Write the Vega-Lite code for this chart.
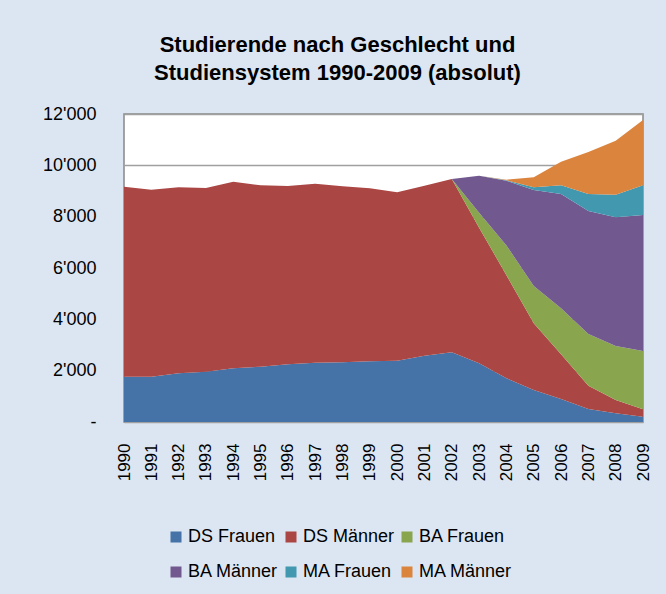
{
  "$schema": "https://vega.github.io/schema/vega-lite/v6.json",
  "width": 519,
  "height": 308,
  "autosize": {"type": "none"},
  "padding": {"left": 124, "top": 114, "right": 23, "bottom": 172},
  "background": "#dce6f2",
  "title": {
    "text": ["Studierende nach Geschlecht und", "Studiensystem 1990-2009 (absolut)"],
    "font": "Liberation Sans",
    "fontSize": 22,
    "fontWeight": "bold",
    "color": "#000000",
    "lineHeight": 28,
    "anchor": "middle",
    "frame": "group",
    "dx": -46,
    "offset": 20
  },
  "data": {
    "values": [
      {"year": 1990, "series": "DS Frauen", "value": 1765}, {"year": 1990, "series": "DS Männer", "value": 7403}, {"year": 1990, "series": "BA Frauen", "value": 0}, {"year": 1990, "series": "BA Männer", "value": 0}, {"year": 1990, "series": "MA Frauen", "value": 0}, {"year": 1990, "series": "MA Männer", "value": 0},
      {"year": 1991, "series": "DS Frauen", "value": 1765}, {"year": 1991, "series": "DS Männer", "value": 7286}, {"year": 1991, "series": "BA Frauen", "value": 0}, {"year": 1991, "series": "BA Männer", "value": 0}, {"year": 1991, "series": "MA Frauen", "value": 0}, {"year": 1991, "series": "MA Männer", "value": 0},
      {"year": 1992, "series": "DS Frauen", "value": 1897}, {"year": 1992, "series": "DS Männer", "value": 7246}, {"year": 1992, "series": "BA Frauen", "value": 0}, {"year": 1992, "series": "BA Männer", "value": 0}, {"year": 1992, "series": "MA Frauen", "value": 0}, {"year": 1992, "series": "MA Männer", "value": 0},
      {"year": 1993, "series": "DS Frauen", "value": 1961}, {"year": 1993, "series": "DS Männer", "value": 7156}, {"year": 1993, "series": "BA Frauen", "value": 0}, {"year": 1993, "series": "BA Männer", "value": 0}, {"year": 1993, "series": "MA Frauen", "value": 0}, {"year": 1993, "series": "MA Männer", "value": 0},
      {"year": 1994, "series": "DS Frauen", "value": 2091}, {"year": 1994, "series": "DS Männer", "value": 7272}, {"year": 1994, "series": "BA Frauen", "value": 0}, {"year": 1994, "series": "BA Männer", "value": 0}, {"year": 1994, "series": "MA Frauen", "value": 0}, {"year": 1994, "series": "MA Männer", "value": 0},
      {"year": 1995, "series": "DS Frauen", "value": 2156}, {"year": 1995, "series": "DS Männer", "value": 7065}, {"year": 1995, "series": "BA Frauen", "value": 0}, {"year": 1995, "series": "BA Männer", "value": 0}, {"year": 1995, "series": "MA Frauen", "value": 0}, {"year": 1995, "series": "MA Männer", "value": 0},
      {"year": 1996, "series": "DS Frauen", "value": 2247}, {"year": 1996, "series": "DS Männer", "value": 6948}, {"year": 1996, "series": "BA Frauen", "value": 0}, {"year": 1996, "series": "BA Männer", "value": 0}, {"year": 1996, "series": "MA Frauen", "value": 0}, {"year": 1996, "series": "MA Männer", "value": 0},
      {"year": 1997, "series": "DS Frauen", "value": 2312}, {"year": 1997, "series": "DS Männer", "value": 6973}, {"year": 1997, "series": "BA Frauen", "value": 0}, {"year": 1997, "series": "BA Männer", "value": 0}, {"year": 1997, "series": "MA Frauen", "value": 0}, {"year": 1997, "series": "MA Männer", "value": 0},
      {"year": 1998, "series": "DS Frauen", "value": 2325}, {"year": 1998, "series": "DS Männer", "value": 6857}, {"year": 1998, "series": "BA Frauen", "value": 0}, {"year": 1998, "series": "BA Männer", "value": 0}, {"year": 1998, "series": "MA Frauen", "value": 0}, {"year": 1998, "series": "MA Männer", "value": 0},
      {"year": 1999, "series": "DS Frauen", "value": 2364}, {"year": 1999, "series": "DS Männer", "value": 6740}, {"year": 1999, "series": "BA Frauen", "value": 0}, {"year": 1999, "series": "BA Männer", "value": 0}, {"year": 1999, "series": "MA Frauen", "value": 0}, {"year": 1999, "series": "MA Männer", "value": 0},
      {"year": 2000, "series": "DS Frauen", "value": 2390}, {"year": 2000, "series": "DS Männer", "value": 6558}, {"year": 2000, "series": "BA Frauen", "value": 0}, {"year": 2000, "series": "BA Männer", "value": 0}, {"year": 2000, "series": "MA Frauen", "value": 0}, {"year": 2000, "series": "MA Männer", "value": 0},
      {"year": 2001, "series": "DS Frauen", "value": 2584}, {"year": 2001, "series": "DS Männer", "value": 6623}, {"year": 2001, "series": "BA Frauen", "value": 0}, {"year": 2001, "series": "BA Männer", "value": 0}, {"year": 2001, "series": "MA Frauen", "value": 0}, {"year": 2001, "series": "MA Männer", "value": 0},
      {"year": 2002, "series": "DS Frauen", "value": 2714}, {"year": 2002, "series": "DS Männer", "value": 6753}, {"year": 2002, "series": "BA Frauen", "value": 0}, {"year": 2002, "series": "BA Männer", "value": 0}, {"year": 2002, "series": "MA Frauen", "value": 0}, {"year": 2002, "series": "MA Männer", "value": 0},
      {"year": 2003, "series": "DS Frauen", "value": 2286}, {"year": 2003, "series": "DS Männer", "value": 5284}, {"year": 2003, "series": "BA Frauen", "value": 585}, {"year": 2003, "series": "BA Männer", "value": 1435}, {"year": 2003, "series": "MA Frauen", "value": 0}, {"year": 2003, "series": "MA Männer", "value": 0},
      {"year": 2004, "series": "DS Frauen", "value": 1701}, {"year": 2004, "series": "DS Männer", "value": 4019}, {"year": 2004, "series": "BA Frauen", "value": 1160}, {"year": 2004, "series": "BA Männer", "value": 2520}, {"year": 2004, "series": "MA Frauen", "value": 20}, {"year": 2004, "series": "MA Männer", "value": 20},
      {"year": 2005, "series": "DS Frauen", "value": 1247}, {"year": 2005, "series": "DS Männer", "value": 2597}, {"year": 2005, "series": "BA Frauen", "value": 1455}, {"year": 2005, "series": "BA Männer", "value": 3740}, {"year": 2005, "series": "MA Frauen", "value": 104}, {"year": 2005, "series": "MA Männer", "value": 397},
      {"year": 2006, "series": "DS Frauen", "value": 896}, {"year": 2006, "series": "DS Männer", "value": 1740}, {"year": 2006, "series": "BA Frauen", "value": 1792}, {"year": 2006, "series": "BA Männer", "value": 4455}, {"year": 2006, "series": "MA Frauen", "value": 338}, {"year": 2006, "series": "MA Männer", "value": 921},
      {"year": 2007, "series": "DS Frauen", "value": 506}, {"year": 2007, "series": "DS Männer", "value": 910}, {"year": 2007, "series": "BA Frauen", "value": 2012}, {"year": 2007, "series": "BA Männer", "value": 4793}, {"year": 2007, "series": "MA Frauen", "value": 662}, {"year": 2007, "series": "MA Männer", "value": 1637},
      {"year": 2008, "series": "DS Frauen", "value": 338}, {"year": 2008, "series": "DS Männer", "value": 519}, {"year": 2008, "series": "BA Frauen", "value": 2104}, {"year": 2008, "series": "BA Männer", "value": 5013}, {"year": 2008, "series": "MA Frauen", "value": 883}, {"year": 2008, "series": "MA Männer", "value": 2103},
      {"year": 2009, "series": "DS Frauen", "value": 208}, {"year": 2009, "series": "DS Männer", "value": 286}, {"year": 2009, "series": "BA Frauen", "value": 2272}, {"year": 2009, "series": "BA Männer", "value": 5299}, {"year": 2009, "series": "MA Frauen", "value": 1156}, {"year": 2009, "series": "MA Männer", "value": 2545}
    ]
  },
  "transform": [
    {"calculate": "indexof(['DS Frauen', 'DS Männer', 'BA Frauen', 'BA Männer', 'MA Frauen', 'MA Männer'], datum.series)", "as": "stackOrder"}
  ],
  "mark": {"type": "area", "opacity": 1, "interpolate": "linear"},
  "encoding": {
    "x": {
      "field": "year",
      "type": "quantitative",
      "scale": {"domain": [1990, 2009], "nice": false, "zero": false},
      "axis": {
        "title": null,
        "values": [1990, 1991, 1992, 1993, 1994, 1995, 1996, 1997, 1998, 1999, 2000, 2001, 2002, 2003, 2004, 2005, 2006, 2007, 2008, 2009],
        "format": "d",
        "labelAngle": 270,
        "labelPadding": 21,
        "ticks": false,
        "tickSize": 0,
        "domain": false,
        "grid": false,
        "labelFont": "Liberation Sans",
        "labelFontSize": 17,
        "labelColor": "#000000",
        "labelOverlap": false,
        "labelFlush": false
      }
    },
    "y": {
      "field": "value",
      "type": "quantitative",
      "stack": "zero",
      "scale": {"domain": [0, 12000], "nice": false},
      "axis": {
        "title": null,
        "values": [0, 2000, 4000, 6000, 8000, 10000, 12000],
        "labelExpr": "datum.value == 0 ? '-' : replace(format(datum.value, ','), ',', \"'\")",
        "labelPadding": 28,
        "ticks": false,
        "tickSize": 0,
        "domain": false,
        "grid": true,
        "gridColor": "#a0a0a0",
        "gridWidth": 1.3,
        "labelFont": "Liberation Sans",
        "labelFontSize": 18,
        "labelColor": "#000000",
        "labelOverlap": false,
        "labelFlush": false
      }
    },
    "order": {"field": "stackOrder", "type": "quantitative", "sort": "ascending"},
    "color": {
      "field": "series",
      "type": "nominal",
      "sort": ["DS Frauen", "DS Männer", "BA Frauen", "BA Männer", "MA Frauen", "MA Männer"],
      "scale": {
        "domain": ["DS Frauen", "DS Männer", "BA Frauen", "BA Männer", "MA Frauen", "MA Männer"],
        "range": ["#4572a7", "#aa4643", "#89a54e", "#71588f", "#4198af", "#db843d"]
      },
      "legend": {
        "title": null,
        "orient": "none",
        "legendX": 43,
        "legendY": 414,
        "direction": "horizontal",
        "columns": 3,
        "columnPadding": 3,
        "rowPadding": 17,
        "symbolType": "square",
        "symbolSize": 121,
        "symbolStrokeWidth": 0,
        "labelOffset": 3,
        "labelFont": "Liberation Sans",
        "labelFontSize": 18,
        "labelColor": "#000000"
      }
    }
  },
  "config": {
    "view": {"fill": "#ffffff", "stroke": "#888888", "strokeWidth": 1.5}
  }
}
